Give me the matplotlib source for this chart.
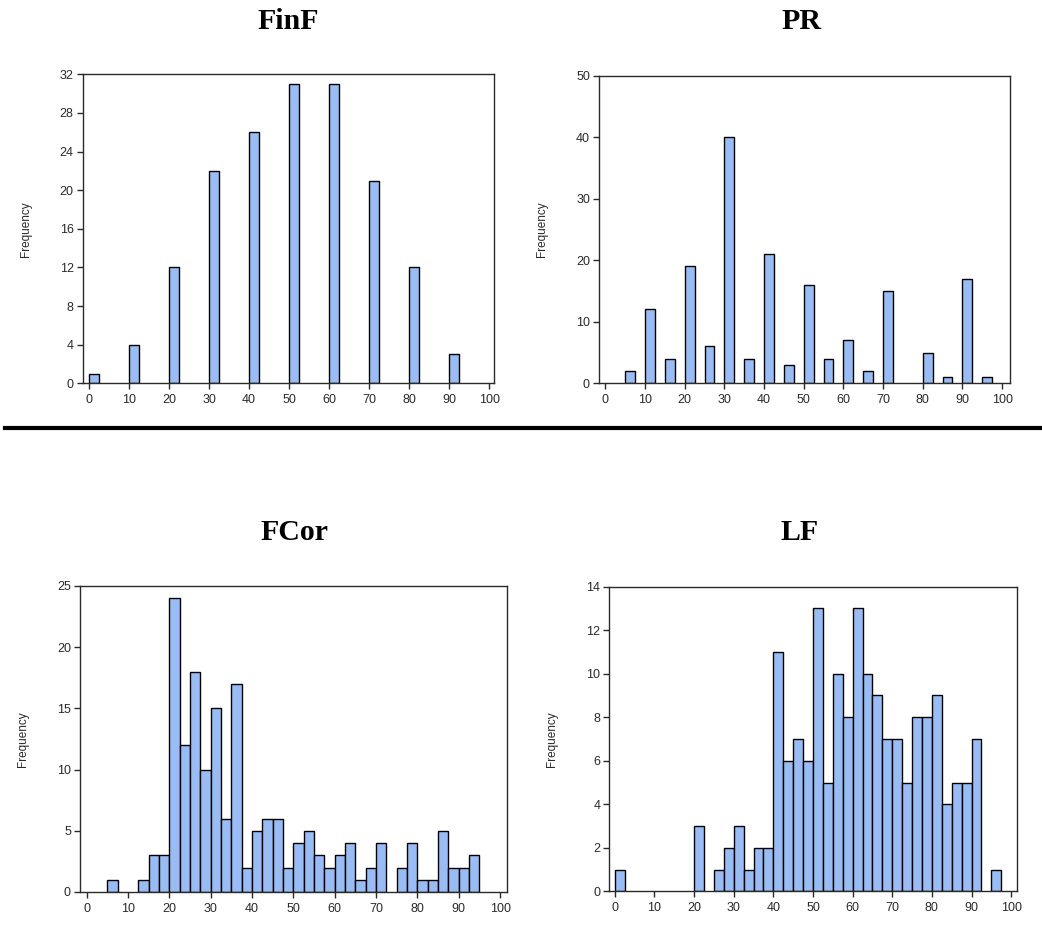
import matplotlib
matplotlib.use("Agg")
import matplotlib.pyplot as plt
import numpy as np
from matplotlib.lines import Line2D

# bin width of every histogram
bin_width = 2.5

# FinF: only a few bins are filled
finf_left = [0, 10, 20, 30, 40, 50, 60, 70, 80, 90]
finf_count = [1, 4, 12, 22, 26, 31, 31, 21, 12, 3]

# PR
pr_left = [5, 10, 15, 20, 25, 30, 35, 40, 45, 50, 55, 60, 65, 70, 75, 80, 85, 90, 95]
pr_count = [2, 12, 4, 19, 6, 40, 4, 21, 3, 16, 4, 7, 2, 15, 0, 5, 1, 17, 1]

# FCor and LF: bins 0, 2.5, ..., 97.5
full_left = [i * 2.5 for i in range(40)]
fcor_count = [0, 0, 1, 0, 0, 1, 3, 3, 24, 12, 18, 10, 15, 6, 17, 2, 5, 6, 6, 2,
              4, 5, 3, 2, 3, 4, 1, 2, 4, 0, 2, 4, 1, 1, 5, 2, 2, 3, 0, 0]
lf_count = [1, 0, 0, 0, 0, 0, 0, 0, 3, 0, 1, 2, 3, 1, 2, 2, 11, 6, 7, 6,
            13, 5, 10, 8, 13, 10, 9, 7, 7, 5, 8, 8, 9, 4, 5, 5, 7, 0, 1, 0]

titles = ["FinF", "PR", "FCor", "LF"]
x_ticks = list(range(0, 101, 10))

W, H = 1042, 932
fig = plt.figure(figsize=(W / 100, H / 100), dpi=100)
plt.rcParams['font.family'] = ['Liberation Sans', 'DejaVu Sans']

bar_color = '#99BCF5'
axis_color = '#2a2a2a'


def add_panel(box, left, count, ymax, ystep, xlim, title, title_xy):
    x0, y0, x1, y1 = box  # pixel box: left, top, right, bottom
    ax = fig.add_axes([x0 / W, 1 - y1 / H, (x1 - x0) / W, (y1 - y0) / H])
    left = np.array(left, dtype=float)
    count = np.array(count)
    keep = count > 0
    ax.bar(left[keep], count[keep], width=bin_width, align='edge',
           color=bar_color, edgecolor='black', linewidth=1.0)
    ax.set_xlim(*xlim)
    ax.set_ylim(0, ymax)
    ax.set_xticks(x_ticks)
    ax.set_yticks(np.arange(0, ymax + 0.1, ystep))
    ax.tick_params(direction='out', length=4, width=1, colors=axis_color,
                   labelsize=9)
    ax.tick_params(axis='x', pad=4)
    ax.tick_params(axis='y', pad=2.5)
    for s in ax.spines.values():
        s.set_color(axis_color)
        s.set_linewidth(1.0)
    ax.set_ylabel('Frequency', fontsize=8.5, color=axis_color)
    ax.yaxis.set_label_coords(-51 / (x1 - x0), 0.5)
    # title baseline given in pixels
    fig.text(title_xy[0] / W, 1 - title_xy[1] / H, title, ha='center', va='baseline',
             fontsize=21.5, fontweight='bold', family='Liberation Serif')
    return ax


add_panel((82.7, 74.3, 494, 383.3), finf_left, finf_count, 32, 4, (-1.6, 101.2),
          titles[0], (288, 29))
add_panel((599, 75.7, 1010, 383.3), pr_left, pr_count, 50, 10, (-1.6, 102),
          titles[1], (801, 29))
add_panel((80, 586, 506.7, 892), full_left, fcor_count, 25, 5, (-1.6, 101.6),
          titles[2], (294.5, 540))
add_panel((609.3, 586.7, 1016.7, 891.3), full_left, lf_count, 14, 2, (-1.4, 101.4),
          titles[3], (800, 540))

# thick separator between the two rows
fig.add_artist(Line2D([5 / W, 1], [1 - 428 / H, 1 - 428 / H], color='black',
                      linewidth=3, transform=fig.transFigure))

fig.savefig('out.png', dpi=100)
